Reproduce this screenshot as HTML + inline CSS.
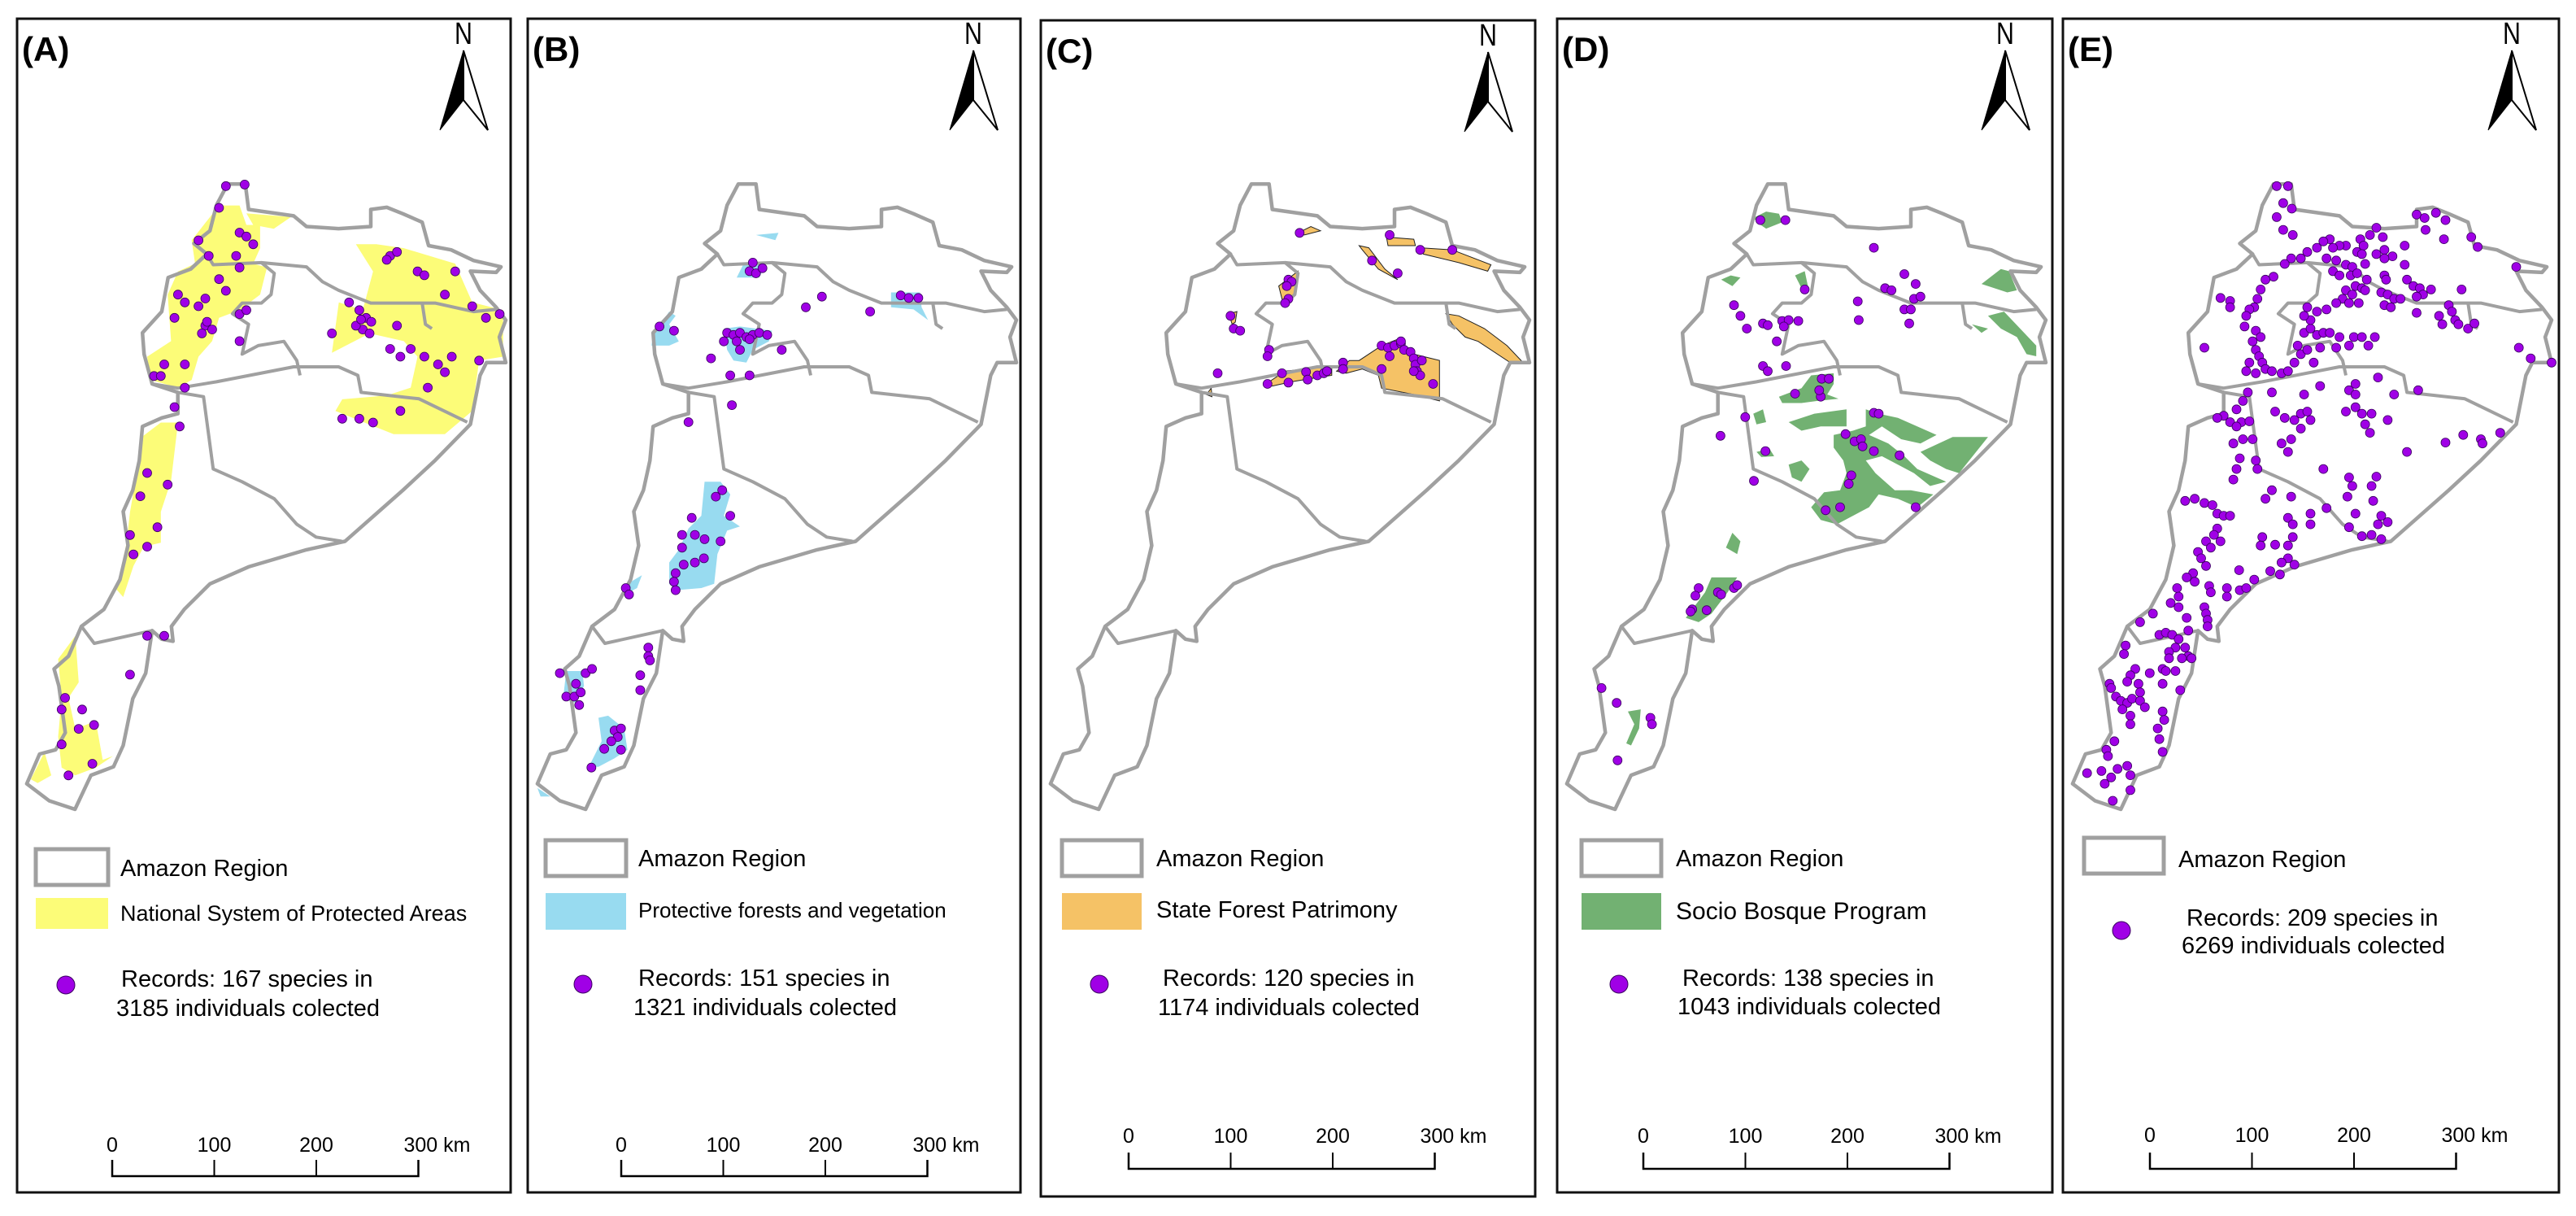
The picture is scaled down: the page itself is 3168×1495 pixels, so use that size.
<!DOCTYPE html>
<html><head><meta charset="utf-8">
<style>
html,body{margin:0;padding:0;background:#fff;}
svg{display:block;font-family:"Liberation Sans",Arial,sans-serif;}
</style></head>
<body>
<svg id="fig" width="3168" height="1495" viewBox="0 0 3168 1495" xmlns="http://www.w3.org/2000/svg"></svg>
<script>
const outline=[[655,50],[710,50],[720,110],[860,125],[900,150],[1000,155],[1100,150],[1100,110],[1150,105],[1200,120],[1260,140],[1280,195],[1350,205],[1420,230],[1505,245],[1490,258],[1410,255],[1440,300],[1490,340],[1520,370],[1500,410],[1520,470],[1460,470],[1440,500],[1410,615],[1300,700],[1200,770],[1020,890],[900,910],[720,950],[600,990],[520,1050],[480,1090],[485,1125],[450,1120],[420,1100],[400,1200],[360,1260],[330,1370],[300,1420],[230,1440],[180,1520],[100,1500],[30,1460],[70,1390],[120,1380],[150,1340],[130,1230],[115,1190],[160,1160],[200,1090],[270,1050],[320,980],[345,900],[330,820],[360,770],[380,700],[390,620],[450,600],[500,590],[500,540],[420,520],[395,450],[390,400],[450,350],[470,270],[540,250],[590,215],[550,190],[600,160],[620,100]];
const innerLines=[
[[420,520],[500,530],[620,515],[860,480],[1000,480],[1060,500],[1070,540],[1250,555],[1400,610]],
[[500,540],[580,550],[610,720],[700,750],[800,790],[870,850],[930,880],[1010,890]],
[[590,215],[610,240],[760,235],[800,260],[790,310],[760,330],[700,330],[670,355],[720,380],[700,450],[750,430],[830,420],[870,465],[880,500]],
[[760,235],[900,245],[950,280],[1000,300],[1100,330],[1250,330],[1300,330],[1420,350],[1490,345]],
[[1260,330],[1270,380],[1290,390]],
[[200,1090],[240,1130],[420,1100]]
];
const fillsA=[
[[560,310],[640,265],[700,265],[720,290],[760,290],[760,320],[740,340],[780,345],[760,380],[700,400],[640,410],[620,440],[580,460],[560,490],[520,500],[440,490],[430,460],[500,440],[490,380],[520,350],[570,340]],
[[720,275],[850,280],[800,295],[740,290]],
[[410,565],[470,545],[520,545],[500,620],[470,660],[470,700],[420,705],[390,730],[360,770],[340,760],[370,700],[380,660],[400,610]],
[[1040,315],[1100,315],[1180,320],[1330,340],[1380,390],[1470,400],[1470,460],[1400,465],[1380,530],[1300,560],[1150,560],[980,530],[1000,515],[1130,510],[1200,500],[1220,460],[1180,440],[1080,430],[970,455],[990,390],[1060,400],[1090,350]],
[[170,850],[220,820],[230,880],[200,900],[220,940],[280,930],[300,980],[330,975],[280,990],[220,1000],[180,990],[170,950],[180,900]],
[[90,1005],[130,970],[150,1000],[110,1010]]
];
const fillsB=[
[[650,270],[670,240],[740,240],[720,270]],
[[610,390],[660,385],[760,395],[750,420],[700,440],[680,470],[640,465],[620,440]],
[[385,430],[390,405],[440,350],[460,360],[440,380],[470,420],[440,430]],
[[1130,305],[1220,305],[1225,340],[1245,370],[1200,345],[1130,340]],
[[550,750],[600,750],[630,780],[610,830],[660,855],[620,865],[590,920],[580,990],[540,1000],[460,1005],[440,990],[440,940],[470,910],[500,860],[540,830]],
[[290,1020],[310,990],[355,970],[340,1000]],
[[220,1305],[250,1300],[300,1330],[310,1380],[270,1400],[220,1420],[190,1420],[230,1360]],
[[120,1195],[170,1195],[175,1230],[150,1270],[110,1260]],
[[710,170],[780,165],[770,182]],
[[30,1470],[70,1490],[40,1490]]
];
const fillsC=[
[[800,165],[840,150],[870,160],[820,170]],
[[1075,175],[1160,180],[1165,195],[1080,195]],
[[990,195],[1020,200],[1070,250],[1110,275],[1050,250],[1000,205]],
[[1180,200],[1280,205],[1400,240],[1390,255],[1300,235],[1190,215]],
[[740,290],[800,255],[790,310],[760,335],[750,320]],
[[585,355],[610,350],[605,375],[595,380]],
[[1260,355],[1300,360],[1380,390],[1450,430],[1500,470],[1460,470],[1360,420],[1320,410],[1280,380]],
[[920,490],[960,465],[990,465],[1060,430],[1110,415],[1160,450],[1240,465],[1240,560],[1160,545],[1060,530],[1050,500],[1000,485],[950,495]],
[[700,520],[760,490],[880,480],[905,478],[905,500],[860,505],[780,515],[720,525]],
[[515,545],[530,530],[532,550]]
];
const fillsD=[
[[610,130],[650,115],[690,120],[700,140],[650,155],[630,145]],
[[510,275],[540,265],[570,270],[545,290]],
[[740,265],[770,255],[780,290],[760,295]],
[[1320,285],[1380,250],[1405,255],[1430,300],[1400,305]],
[[1340,360],[1390,350],[1440,390],[1490,430],[1490,455],[1460,450],[1430,410],[1380,390]],
[[1290,380],[1340,390],[1320,400]],
[[690,550],[760,530],[790,500],[860,495],[860,520],[840,545],[875,555],[810,560],[760,565],[700,565]],
[[720,610],[800,590],[900,580],[900,620],[820,620],[760,630]],
[[960,580],[1000,590],[1060,600],[1180,640],[1130,660],[1070,650],[1010,620],[970,640],[1030,660],[1080,690],[1120,720],[1210,750],[1160,760],[1110,730],[1060,710],[1010,690],[960,700],[990,730],[1050,770],[1100,770],[1170,780],[1120,810],[1060,790],[1000,780],[970,810],[920,830],[870,850],[820,840],[790,810],[830,775],[880,770],[900,730],[890,700],[860,670],[860,640],[920,630],[960,620]],
[[1130,680],[1230,645],[1340,645],[1250,730],[1210,720],[1160,700]],
[[720,710],[760,700],[785,720],[760,750],[730,740]],
[[620,680],[660,672],[675,690],[635,692]],
[[525,905],[545,870],[570,890],[560,920]],
[[400,1070],[460,1010],[480,975],[560,975],[530,1010],[480,1060],[440,1080]],
[[220,1290],[260,1285],[255,1330],[230,1370],[215,1365],[240,1320]],
[[610,590],[640,580],[650,610],[620,615]]
];
const ptsA=[[660,240],[715,238],[640,268],[700,300],[720,305],[740,315],[690,330],[610,330],[580,310],[700,345],[640,360],[660,375],[600,385],[520,380],[540,390],[580,395],[510,410],[600,420],[620,425],[590,430],[605,415],[700,405],[720,400],[700,440],[480,470],[450,485],[470,485],[540,470],[540,500],[510,525],[525,550],[430,610],[490,625],[410,640],[460,680],[380,690],[430,705],[390,715],[1140,330],[1160,325],[1130,335],[1220,350],[1240,355],[1330,350],[1300,380],[1380,395],[1420,410],[1460,405],[1020,390],[1050,400],[1070,410],[1060,425],[1080,430],[1040,420],[1055,412],[1085,415],[970,430],[1160,420],[1140,450],[1200,450],[1240,460],[1280,470],[1300,480],[1320,460],[1170,460],[1250,500],[1000,540],[1050,540],[1090,545],[1170,530],[1400,465],[480,820],[430,820],[380,870],[190,900],[180,915],[240,915],[230,940],[275,935],[180,960],[270,985],[200,1000]];
const ptsB=[[700,235],[690,255],[710,260],[730,248],[620,400],[640,405],[660,400],[680,410],[700,405],[720,400],[745,405],[650,420],[690,415],[610,420],[660,440],[410,385],[455,395],[570,460],[630,500],[690,500],[635,570],[790,440],[865,340],[915,315],[1065,350],[1160,312],[1185,318],[1215,318],[500,610],[605,770],[585,785],[630,830],[510,835],[480,875],[520,875],[550,885],[600,890],[480,905],[548,930],[520,940],[485,945],[460,965],[455,985],[460,1005],[305,1000],[315,1015],[375,1140],[375,1160],[380,1170],[350,1205],[350,1240],[100,1200],[180,1200],[200,1190],[150,1225],[120,1255],[145,1255],[160,1275],[165,1245],[270,1335],[290,1330],[280,1350],[260,1360],[290,1380],[238,1378],[198,1422]];
const ptsC=[[805,165],[1085,170],[1180,205],[1280,205],[1030,230],[1110,260],[770,275],[780,280],[765,290],[770,320],[760,330],[590,360],[600,390],[620,395],[710,440],[705,455],[550,495],[940,470],[940,485],[750,495],[825,492],[860,500],[880,495],[890,490],[830,510],[770,517],[705,520],[1060,430],[1080,435],[1100,430],[1120,425],[1130,440],[1150,445],[1160,460],[1165,475],[1170,490],[1180,500],[1085,455],[1060,485],[1185,465],[1220,520],[1120,420],[1160,490]];
const ptsD=[[632,135],[710,135],[985,200],[1080,262],[1020,295],[1040,300],[1115,285],[1110,320],[1130,315],[1080,345],[1100,345],[1095,378],[770,298],[550,335],[570,360],[590,390],[640,378],[655,382],[700,372],[720,370],[750,372],[705,385],[683,420],[640,478],[655,490],[712,478],[935,326],[938,370],[823,508],[845,508],[740,543],[820,550],[815,535],[585,598],[508,642],[648,678],[612,748],[985,588],[1000,590],[897,638],[925,655],[945,650],[950,667],[985,678],[1065,688],[915,735],[907,755],[880,810],[835,817],[1115,810],[440,1000],[430,1018],[500,1010],[510,1015],[550,1000],[560,993],[420,1050],[415,1055],[465,1052],[138,1235],[185,1270],[290,1305],[295,1320],[188,1405]];
const ptsE=[[665,55],[700,55],[685,95],[712,108],[665,128],[685,158],[715,170],[1100,122],[1125,130],[1160,118],[1190,135],[1128,158],[1185,180],[1270,175],[1290,198],[975,153],[955,170],[995,175],[925,180],[935,195],[915,210],[930,215],[880,195],[860,195],[840,200],[830,180],[810,185],[790,200],[760,210],[740,225],[710,225],[690,238],[820,225],[850,230],[880,240],[900,245],[940,238],[975,215],[1000,205],[1025,220],[1000,225],[1063,195],[1063,240],[1000,265],[1005,275],[840,255],[860,265],[895,265],[915,260],[945,275],[910,290],[930,295],[880,300],[900,310],[940,300],[870,320],[850,330],[890,330],[920,330],[990,305],[1010,310],[1030,320],[1050,320],[1000,335],[1020,340],[1070,275],[1090,290],[1110,295],[1120,310],[1100,315],[1145,298],[1240,298],[1200,335],[1210,350],[1220,370],[1180,380],[1230,380],[1260,390],[1280,378],[1170,360],[1100,353],[1410,245],[1418,435],[1455,460],[1520,470],
[615,298],[605,320],[595,340],[580,345],[570,360],[565,385],[600,395],[615,410],[590,420],[600,440],[610,455],[620,470],[580,470],[570,490],[600,495],[630,485],[650,490],[680,495],[700,490],[720,470],[740,450],[730,430],[760,440],[780,470],[750,400],[770,390],[790,405],[810,400],[830,400],[860,410],[905,410],[930,410],[970,410],[950,430],[890,430],[850,435],[800,435],[790,350],[770,370],[750,360],[820,345],[760,340],[520,325],[490,318],[440,435],[520,340],[655,268],[630,275],[555,610],[580,608],[575,540],[560,560],[540,580],[500,595],[480,600],[520,610],[540,620],[560,650],[530,660],[590,650],[650,540],[660,585],[690,600],[720,605],[740,590],[710,650],[680,660],[700,680],[760,585],[740,625],[770,605],[600,700],[605,720],[550,695],[540,720],[530,745],[800,525],[750,545],[890,535],[910,545],[910,520],[980,505],[1030,545],[1105,535],[880,585],[910,575],[930,590],[960,590],[940,615],[1010,605],[955,635],[1070,680],[1190,658],[1245,640],[1300,650],[1305,660],[1360,635],
[810,720],[890,740],[900,760],[975,738],[960,760],[885,785],[965,795],[910,825],[990,830],[1010,845],[980,850],[960,875],[930,878],[990,885],[890,857],[820,812],[770,825],[770,850],[700,835],[715,850],[710,785],[650,770],[630,790],[620,880],[615,900],[660,898],[715,880],[700,900],[700,930],[680,940],[720,945],[645,960],[675,968],[548,958],[595,980],[550,1005],[570,1000],[510,1000],[510,1020],
[380,795],[410,790],[440,800],[465,805],[480,825],[500,830],[520,830],[480,860],[470,875],[490,890],[445,890],[460,905],[420,915],[430,930],[445,948],[405,965],[385,975],[410,985],[455,995],[460,1010],[355,1000],[360,1020],[335,1035],[360,1045],[440,1045],[445,1060],[450,1075],[450,1090],[385,1070],[390,1100],[280,1060],[240,1080],[300,1110],[320,1105],[340,1110],[360,1120],[350,1140],[330,1150],[380,1140],[390,1160],[370,1165],[400,1165],[330,1165],[310,1190],[320,1195],[350,1195],[270,1200],[225,1190],[210,1205],[200,1220],[235,1225],[240,1245],[310,1225],[365,1240],[145,1225],[150,1235],[165,1255],[180,1265],[200,1270],[215,1260],[240,1265],[255,1280],[185,1285],[210,1300],[210,1320],[310,1290],[315,1310],[295,1330],[300,1355],[310,1385],[195,1135],[190,1155],[160,1360],[135,1380],[140,1395],[120,1430],[150,1445],[170,1425],[200,1418],[210,1440],[130,1460],[75,1435],[155,1500],[210,1475]];
const scaleTicks=["0","100","200","300 km"];

const NS="http://www.w3.org/2000/svg";
const svg=document.getElementById('fig');
function mk(tag,attrs,parent){const e=document.createElementNS(NS,tag);for(const k in attrs)e.setAttribute(k,attrs[k]);(parent||svg).appendChild(e);return e;}

const panels=[
 {id:'a',label:'(A)',left:21,right:628,top:23,bottom:1466,fill:'#fcfc78',fills:fillsA,conv:true,pts:ptsA,fillText:'National System of Protected Areas',fillFont:27,
  amz:[1044,1077],fb:[1104,1142,1132],rec:[1213,1249,1211],recX:128,dotX:60,boxX:[23,112],txtX:127,sc:[117,1416,1446],line1:'Records: 167 species in',line2:'3185 individuals colected'},
 {id:'b',label:'(B)',left:649,right:1255,top:23,bottom:1466,fill:'#98dbf0',fills:fillsB,pts:ptsB,fillText:'Protective forests and vegetation',fillFont:26,
  amz:[1033,1065],fb:[1098,1143,1128],rec:[1212,1248,1210],recX:136,dotX:68,boxX:[22,121],txtX:136,sc:[115,1416,1446],line1:'Records: 151 species in',line2:'1321 individuals colected'},
 {id:'c',label:'(C)',left:1280,right:1888,top:25,bottom:1471,fill:'#f5c266',fills:fillsC,pts:ptsC,fillText:'State Forest Patrimony',fillFont:29,
  amz:[1033,1065],fb:[1098,1143,1128],rec:[1212,1248,1210],recX:150,dotX:72,boxX:[26,124],txtX:142,sc:[108,1405,1437],line1:'Records: 120 species in',line2:'1174 individuals colected'},
 {id:'d',label:'(D)',left:1915,right:2524,top:23,bottom:1466,fill:'#72b172',fills:fillsD,pts:ptsD,fillText:'Socio Bosque Program',fillFont:30,
  amz:[1033,1065],fb:[1098,1143,1130],rec:[1212,1247,1210],recX:154,dotX:76,boxX:[30,128],txtX:146,sc:[106,1405,1437],line1:'Records: 138 species in',line2:'1043 individuals colected'},
 {id:'e',label:'(E)',left:2537,right:3147,top:23,bottom:1466,fill:null,fills:[],pts:ptsE,
  amz:[1030,1066],rec:[1138,1172,1144],recX:152,dotX:72,boxX:[26,124],txtX:142,sc:[107,1404,1437],line1:'Records: 209 species in',line2:'6269 individuals colected'}
];

function fx(p,zx){return p.left+zx/2.529;}
function fy(zy){return 200+zy/1.912;}
function ptsStr(p,arr){return arr.map(q=>fx(p,q[0]).toFixed(1)+','+fy(q[1]).toFixed(1)).join(' ');}
function aConv(q){return [(q[0]/2.376-21)*2.529,(q[1]/1.049-200)*1.912];}

panels.forEach(p=>{
  const g=mk('g',{});
  
  
  const frame=mk('rect',{x:p.left,y:p.top,width:p.right-p.left,height:p.bottom-p.top,fill:'#fff',stroke:'#111','stroke-width':3},g);
  
  
  const lab=mk('text',{x:p.left+6,y:p.top+52,'font-size':42,'font-weight':'bold',fill:'#000'},g);
  lab.textContent=p.label;
  
  
  p.fills.forEach(f=>{
    const arr=p.conv?f.map(aConv):f;
    const poly=mk('polygon',{points:ptsStr(p,arr),fill:p.fill,stroke:p.id==='c'?'#222':'none','stroke-width':1},g);
    
    
  });
  const ol=mk('polygon',{points:ptsStr(p,outline),fill:'none',stroke:'#a0a0a0','stroke-width':4.5,'stroke-linejoin':'round'},g);
  
  
  innerLines.forEach(l=>{
    const pl=mk('polyline',{points:ptsStr(p,l),fill:'none',stroke:'#a0a0a0','stroke-width':4,'stroke-linejoin':'round'},g);
    
    
  });
  p.pts.forEach(q0=>{
    const q=p.conv?aConv(q0):q0;
    const c=mk('circle',{cx:fx(p,q[0]).toFixed(1),cy:fy(q[1]).toFixed(1),r:5.5,fill:'#a000e6',stroke:'#3a0060','stroke-width':0.8},g);
    
    
  });
  const ax=p.right-58, L=p.left;
  const nt=mk('text',{x:ax,y:p.top+31,'font-size':38,'text-anchor':'middle',fill:'#000',transform:`translate(${ax},0) scale(0.8,1) translate(${-ax},0)`},g);
  nt.textContent='N';
  
  
  const a1=mk('polygon',{points:`${ax},${p.top+39} ${ax-29},${p.top+137} ${ax},${p.top+100}`,fill:'#000',stroke:'#000','stroke-width':1},g);
  
  
  const a2=mk('polygon',{points:`${ax},${p.top+39} ${ax+30},${p.top+137} ${ax},${p.top+100}`,fill:'#fff',stroke:'#000','stroke-width':2},g);
  
  
  const lb=mk('rect',{x:L+p.boxX[0],y:p.amz[0],width:p.boxX[1]-p.boxX[0],height:44,fill:'#fff',stroke:'#a0a0a0','stroke-width':5},g);
  
  
  const lt=mk('text',{x:L+p.txtX,y:p.amz[1],'font-size':29,fill:'#000'},g);
  lt.textContent='Amazon Region';
  
  
  if(p.fill){
    const fb=mk('rect',{x:L+p.boxX[0],y:p.fb[0],width:p.boxX[1]-p.boxX[0],height:p.fb[1]-p.fb[0],fill:p.fill},g);
    
    
    const ft=mk('text',{x:L+p.txtX,y:p.fb[2],'font-size':p.fillFont,fill:'#000'},g);
    ft.textContent=p.fillText;
    
    
  }
  const ld=mk('circle',{cx:L+p.dotX,cy:p.rec[2],r:11,fill:'#a000e6',stroke:'#3a0060','stroke-width':1},g);
  
  
  const r1=mk('text',{x:L+p.recX,y:p.rec[0],'font-size':29,fill:'#000'},g);
  r1.textContent=p.line1;
  
  
  const r2=mk('text',{x:L+p.recX-6,y:p.rec[1],'font-size':29,fill:'#000'},g);
  r2.textContent=p.line2;
  
  
  const x0=L+p.sc[0], step=125.5, by=p.sc[2];
  const sb=mk('polyline',{points:`${x0},${by-20} ${x0},${by} ${x0+3*step},${by} ${x0+3*step},${by-20}`,fill:'none',stroke:'#000','stroke-width':2.5},g);
  
  
  scaleTicks.forEach((t,i)=>{
    const x=x0+i*step;
    if(i>0&&i<3){const tk=mk('line',{x1:x,y1:by-20,x2:x,y2:by,stroke:'#000','stroke-width':2},g);
      
      }
    const tx=mk('text',{x:i===3?x-18:x,y:p.sc[1],'font-size':25,'text-anchor':i===3?'start':'middle',fill:'#000'},g);
    tx.textContent=t;
    
    
  });
});
</script>
</body></html>
